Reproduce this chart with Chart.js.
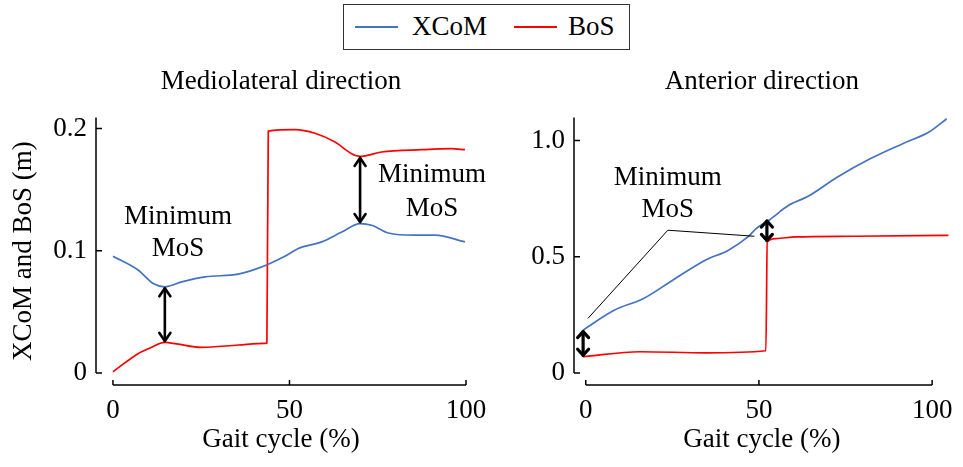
<!DOCTYPE html>
<html>
<head>
<meta charset="utf-8">
<script src="https://cdn.jsdelivr.net/npm/chart.js@4.4.0/dist/chart.umd.min.js"></script>
<style>
    body { margin: 0; background: #fff; width: 963px; height: 467px; overflow: hidden; position: relative; font-family: "Liberation Serif", serif; }
    .panel { position: absolute; top: 0; height: 467px; }
    #legend { position: absolute; left: 343px; top: 4px; width: 287px; height: 46px; box-sizing: border-box; border: 1.5px solid #333; }
    #legend .swatch { position: absolute; top: 21px; width: 43px; height: 2px; }
    #legend .lbl { position: absolute; top: -2px; line-height: 46px; font-size: 27px; color: #000; }
</style>
</head>
<body>
<div id="legend">
    <div class="swatch" style="left:11px;background:#4472C4"></div>
    <span class="lbl" style="left:68px">XCoM</span>
    <div class="swatch" style="left:170px;background:#FF0000"></div>
    <span class="lbl" style="left:224px">BoS</span>
</div>
<div class="panel" style="left:0;width:500px"><canvas id="mlChart"></canvas></div>
<div class="panel" style="left:480px;width:483px"><canvas id="apChart"></canvas></div>
<script>
// Mediolateral direction
const mlXcomX = [0, 7.2, 11.4, 14.7, 19.5, 26.1, 35.5, 40.2, 44, 48.7, 52.5, 59.1, 64.8, 70, 73.3, 78, 85.6, 91.2, 99.7];
const mlXcomY = [0.0955, 0.084, 0.0732, 0.0705, 0.0745, 0.0786, 0.0808, 0.0847, 0.089, 0.0955, 0.1018, 0.1072, 0.1153, 0.1222, 0.1208, 0.1145, 0.1127, 0.1127, 0.1072];
const mlBosX = [0, 7.2, 10.5, 14.7, 18, 25.1, 35.5, 43.1, 43.6, 44, 51.6, 57.2, 62.9, 67.6, 70, 76.1, 87.4, 95.9, 99.7];
const mlBosY = [0.001, 0.016, 0.0205, 0.025, 0.0238, 0.021, 0.0229, 0.0242, 0.0245, 0.1978, 0.199, 0.196, 0.1888, 0.1793, 0.1771, 0.1807, 0.1826, 0.1834, 0.1826];

// Anterior direction
const apXcomX = [-0.8, 8.2, 16.7, 25.1, 34.5, 41.2, 46.8, 49.2, 52.9, 58.6, 64.2, 72.7, 82.1, 91.5, 99.1, 104.2];
const apXcomY = [0.1845, 0.27, 0.3205, 0.399, 0.485, 0.528, 0.585, 0.621, 0.657, 0.721, 0.76, 0.843, 0.921, 0.986, 1.036, 1.093];
const apBosX = [-0.8, 15.7, 34.5, 52, 52.4, 54.8, 60.5, 77.4, 104.7];
const apBosY = [0.07, 0.0915, 0.087, 0.0957, 0.5635, 0.578, 0.585, 0.588, 0.592];

const xTicks = [0, 50, 100];
const mlYTicks = [0, 0.1, 0.2];
const apYTicks = [0, 0.5, 1.0];

// annotations: [x, yTop, yBottom]
const mlArrows = [[14.7, 0.0705, 0.025], [70, 0.1771, 0.1222]];
const apArrows = [[-0.76, 0.1845, 0.07], [52.3, 0.66, 0.5635]];
const mlNotes = [[18.4, 0.1275, "Minimum"], [18.4, 0.1014, "MoS"], [90.4, 0.1616, "Minimum"], [90.4, 0.1344, "MoS"]];
const apNotes = [[23.7, 0.837, "Minimum"], [23.7, 0.70, "MoS"]];
const apLeader = [[0.65, 0.235], [23.7, 0.614], [48.7, 0.588]];

const FONT = "'Liberation Serif', serif";

function points(xs, ys) {
    return xs.map((x, i) => ({ x: x, y: ys[i] }));
}

function drawHead(ctx, x, y, dir, w, len) {
    ctx.beginPath();
    ctx.moveTo(x - w, y + dir * len);
    ctx.lineTo(x, y);
    ctx.lineTo(x + w, y + dir * len);
    ctx.stroke();
}

const decor = {
    id: 'decor',
    afterDraw(chart, args, opts) {
        const { ctx, chartArea, scales: { x, y } } = chart;
        ctx.save();
        ctx.strokeStyle = '#000';
        ctx.fillStyle = '#000';

        // offset spines with inward ticks
        ctx.lineWidth = 1.5;
        const sx = chartArea.left;
        ctx.beginPath();
        ctx.moveTo(sx, y.getPixelForValue(0));
        ctx.lineTo(sx, chartArea.top);
        y.ticks.forEach(t => {
            const py = y.getPixelForValue(t.value);
            ctx.moveTo(sx, py);
            ctx.lineTo(sx + 6, py);
        });
        const sy = chartArea.bottom;
        ctx.moveTo(x.getPixelForValue(0), sy);
        ctx.lineTo(x.getPixelForValue(100), sy);
        x.ticks.forEach(t => {
            const px = x.getPixelForValue(t.value);
            ctx.moveTo(px, sy);
            ctx.lineTo(px, sy - 5);
        });
        ctx.stroke();

        // leader line
        if (opts.leader) {
            ctx.lineWidth = 1;
            ctx.beginPath();
            opts.leader.forEach((p, i) => {
                const px = x.getPixelForValue(p[0]), py = y.getPixelForValue(p[1]);
                if (i == 0) ctx.moveTo(px, py); else ctx.lineTo(px, py);
            });
            ctx.stroke();
        }

        // double arrows
        ctx.lineWidth = opts.arrowWidth;
        ctx.lineCap = 'round';
        ctx.lineJoin = 'round';
        opts.arrows.forEach(a => {
            const px = x.getPixelForValue(a[0]);
            const y1 = y.getPixelForValue(a[1]) + 1.5, y2 = y.getPixelForValue(a[2]) - 1.5;
            ctx.beginPath();
            ctx.moveTo(px, y1);
            ctx.lineTo(px, y2);
            ctx.stroke();
            drawHead(ctx, px, y1, 1, opts.headW, opts.headL);
            drawHead(ctx, px, y2, -1, opts.headW, opts.headL);
        });

        // notes
        ctx.font = '27px ' + FONT;
        ctx.textAlign = 'center';
        ctx.textBaseline = 'middle';
        opts.notes.forEach(n => {
            ctx.fillText(n[2], x.getPixelForValue(n[0]), y.getPixelForValue(n[1]));
        });
        ctx.restore();
    }
};

function makeChart(id, cfg) {
    const font = { family: FONT, size: 27 };
    return new Chart(id, {
        type: 'line',
        data: {
            datasets: [{
                label: 'XCoM',
                data: points(cfg.xcomX, cfg.xcomY),
                borderColor: '#4472C4',
                borderWidth: 1.7,
                pointRadius: 0,
                cubicInterpolationMode: 'monotone'
            }, {
                label: 'BoS',
                data: points(cfg.bosX, cfg.bosY),
                borderColor: '#FF0000',
                borderWidth: 1.7,
                pointRadius: 0,
                cubicInterpolationMode: 'monotone'
            }]
        },
        options: {
            responsive: true,
            maintainAspectRatio: false,
            animation: false,
            layout: { padding: { top: 0, right: cfg.padRight, bottom: 0, left: 0 } },
            plugins: {
                legend: { display: false },
                tooltip: { enabled: false },
                title: {
                    display: true,
                    text: cfg.title,
                    fullSize: false,
                    color: '#000',
                    font: { family: FONT, size: 27, weight: 'normal' },
                    padding: { top: 66, bottom: 19 }
                },
                decor: cfg.decor
            },
            scales: {
                x: {
                    type: 'linear',
                    min: cfg.xMin,
                    max: cfg.xMax,
                    afterBuildTicks: s => { s.ticks = xTicks.map(v => ({ value: v })); },
                    afterFit: s => { s.height = 82; },
                    grid: { display: false, drawTicks: false },
                    border: { display: false },
                    ticks: { color: '#000', font: font, padding: 10, maxRotation: 0 },
                    title: { display: true, text: 'Gait cycle (%)', color: '#000', font: font, padding: { top: 4, bottom: 11 } }
                },
                y: {
                    min: cfg.yMin,
                    max: cfg.yMax,
                    afterBuildTicks: s => { s.ticks = cfg.yTicks.map(v => ({ value: v })); },
                    afterFit: s => { s.width = cfg.yWidth; },
                    grid: { display: false, drawTicks: false },
                    border: { display: false },
                    ticks: { color: '#000', font: font, padding: 9, callback: cfg.fmt },
                    title: { display: cfg.yTitle != '', text: cfg.yTitle, color: '#000', font: font, padding: { top: 8, bottom: 0 } }
                }
            }
        },
        plugins: [decor]
    });
}

function drawAll() {
    makeChart('mlChart', {
        title: 'Mediolateral direction',
        xcomX: mlXcomX, xcomY: mlXcomY, bosX: mlBosX, bosY: mlBosY,
        xMin: -4.8, xMax: 100, yMin: -0.0098, yMax: 0.209,
        yTicks: mlYTicks, yWidth: 96, padRight: 34, yTitle: 'XCoM and BoS (m)',
        fmt: v => v == 0 ? '0' : v.toFixed(1),
        decor: { arrows: mlArrows, notes: mlNotes, arrowWidth: 2.6, headW: 5.5, headL: 8 }
    });

    makeChart('apChart', {
        title: 'Anterior direction',
        xcomX: apXcomX, xcomY: apXcomY, bosX: apBosX, bosY: apBosY,
        xMin: -3.39, xMax: 105.08, yMin: -0.0515, yMax: 1.099,
        yTicks: apYTicks, yWidth: 94, padRight: 5, yTitle: '',
        fmt: v => v == 0 ? '0' : v.toFixed(1),
        decor: { arrows: apArrows, notes: apNotes, leader: apLeader, arrowWidth: 3.2, headW: 5.5, headL: 6 }
    });
}

document.fonts.load("27px 'Liberation Serif'").then(drawAll, drawAll);
</script>
</body>
</html>
